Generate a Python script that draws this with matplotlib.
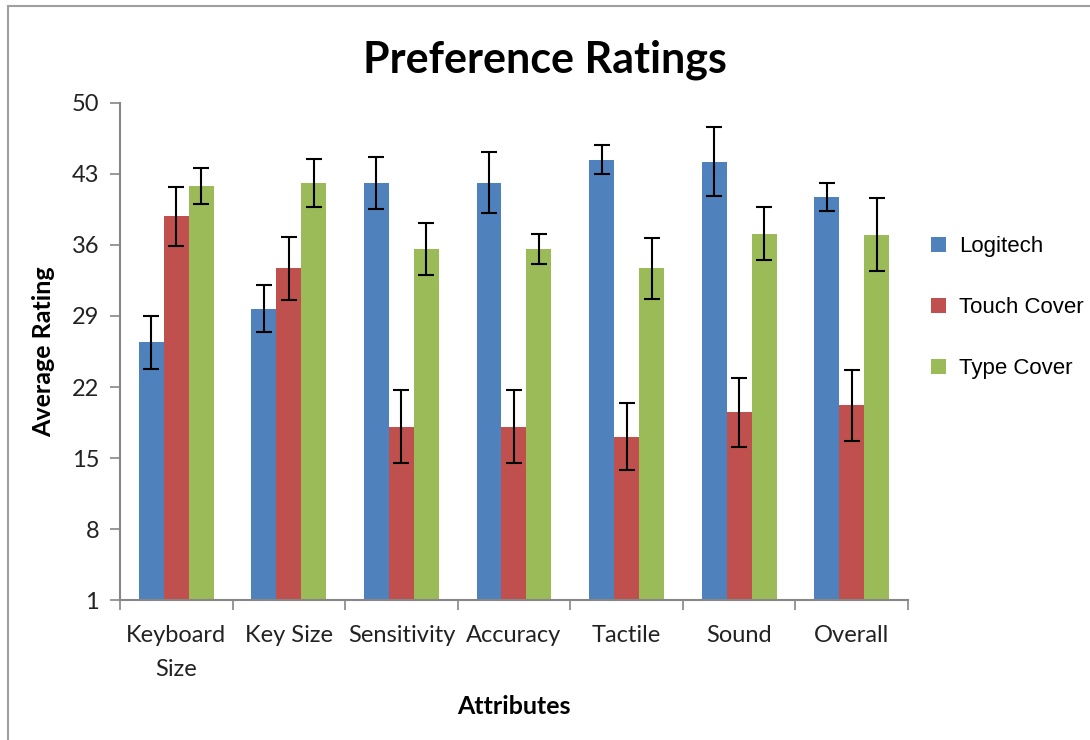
import matplotlib.pyplot as plt
import matplotlib.patches as patches
import numpy as np

categories = ['Keyboard\nSize', 'Key Size', 'Sensitivity', 'Accuracy', 'Tactile', 'Sound', 'Overall']
series = ['Logitech', 'Touch Cover', 'Type Cover']
logitech = [26.4, 29.7, 42.1, 42.1, 44.4, 44.2, 40.7]
touch_cover = [38.8, 33.7, 18.1, 18.1, 17.1, 19.5, 20.2]
type_cover = [41.8, 42.1, 35.6, 35.6, 33.7, 37.1, 37.0]
logitech_err = [2.6, 2.3, 2.6, 3.0, 1.4, 3.4, 1.4]
touch_err = [2.9, 3.1, 3.6, 3.6, 3.3, 3.4, 3.5]
type_err = [1.8, 2.4, 2.6, 1.5, 3.0, 2.6, 3.6]
colors = ['#4F81BD', '#C0504D', '#9BBB59']

fig = plt.figure(figsize=(10.9, 7.4), dpi=100)
ax = fig.add_axes([0.1101, 0.1888, 0.7229, 0.6724])

# chart area border (cut off at right/bottom like the screenshot)
fig.patches.append(patches.Rectangle((8 / 1090, -0.02), 1.1, 1 - 6 / 740 + 0.02,
                                     transform=fig.transFigure, fill=False,
                                     edgecolor='#A0A0A0', linewidth=1.5))

x = np.arange(len(categories))
w = 0.222
data = [logitech, touch_cover, type_cover]
errs = [logitech_err, touch_err, type_err]
for i, (vals, e) in enumerate(zip(data, errs)):
    ax.bar(x + (i - 1) * w, np.array(vals) - 1, w, bottom=1, color=colors[i],
           label=series[i], yerr=e, capsize=6,
           error_kw=dict(elinewidth=1.5, capthick=1.5, ecolor='black'))

ax.set_xlim(-0.5, 6.5)
ax.set_ylim(1, 50)
ax.set_yticks([1, 8, 15, 22, 29, 36, 43, 50])
ax.set_xticks(x)
ax.set_xticklabels(categories, fontfamily='Lato', fontsize=17, color='#222222', linespacing=1.75)
ax.set_xticks(np.arange(-0.5, 7, 1), minor=True)
ax.tick_params(axis='x', which='major', length=0, pad=18)
ax.tick_params(axis='x', which='minor', length=7, color='#868686', width=1.2)
ax.tick_params(axis='y', length=7, color='#868686', width=1.2, pad=8)
for lbl in ax.get_yticklabels():
    lbl.set_fontfamily('Lato')
    lbl.set_fontsize(17)
    lbl.set_color('#222222')

for s in ['top', 'right']:
    ax.spines[s].set_visible(False)
for s in ['left', 'bottom']:
    ax.spines[s].set_color('#868686')
    ax.spines[s].set_linewidth(1.5)

ax.set_ylabel('Average Rating', fontfamily='Lato', fontweight='bold', fontsize=18, labelpad=12)
ax.set_xlabel('Attributes', fontfamily='Lato', fontweight='bold', fontsize=18, labelpad=11)
fig.text(0.5, (740 - 72) / 740, 'Preference Ratings', ha='center', va='baseline',
         fontfamily='Lato', fontweight='bold', fontsize=31)

leg = ax.legend(loc='center left', bbox_to_anchor=(1.004, 0.588), frameon=False,
                prop={'family': 'Liberation Sans', 'size': 16},
                handlelength=0.65, handleheight=0.65, labelspacing=1.8, handletextpad=0.6)

fig.savefig('out.png', dpi=100)
